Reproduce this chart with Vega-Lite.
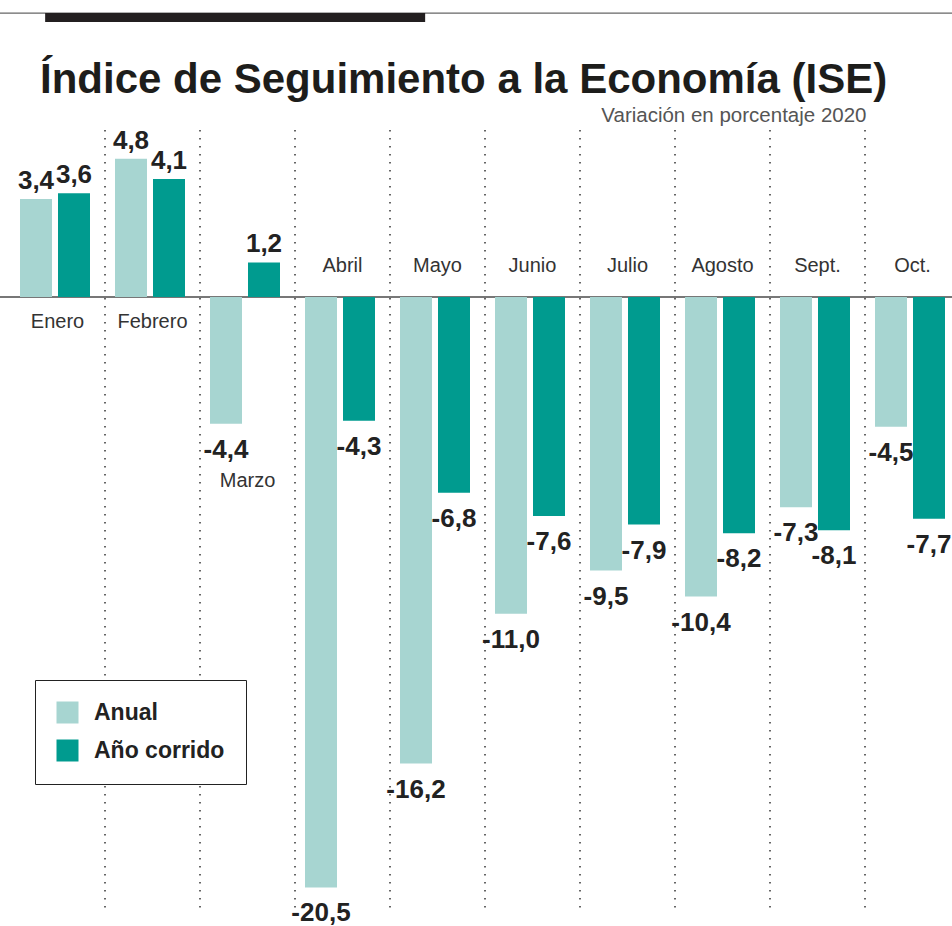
{
  "$schema": "https://vega.github.io/schema/vega-lite/v6.json",
  "width": 952,
  "height": 796,
  "autosize": {"type": "none"},
  "padding": {"left": 0, "top": 130, "right": 0, "bottom": 0},
  "background": "white",
  "title": {
    "text": "Índice de Seguimiento a la Economía (ISE)",
    "anchor": "start",
    "frame": "group",
    "dx": 40,
    "offset": -123,
    "baseline": "alphabetic",
    "font": "Liberation Sans",
    "fontSize": 42,
    "fontWeight": "bold",
    "color": "#1d1d1b"
  },
  "datasets": {
    "ise": [
      {"mes": "Enero", "serie": "Anual", "valor": 3.4},
      {"mes": "Enero", "serie": "Año corrido", "valor": 3.6},
      {"mes": "Febrero", "serie": "Anual", "valor": 4.8},
      {"mes": "Febrero", "serie": "Año corrido", "valor": 4.1},
      {"mes": "Marzo", "serie": "Anual", "valor": -4.4},
      {"mes": "Marzo", "serie": "Año corrido", "valor": 1.2},
      {"mes": "Abril", "serie": "Anual", "valor": -20.5},
      {"mes": "Abril", "serie": "Año corrido", "valor": -4.3},
      {"mes": "Mayo", "serie": "Anual", "valor": -16.2},
      {"mes": "Mayo", "serie": "Año corrido", "valor": -6.8},
      {"mes": "Junio", "serie": "Anual", "valor": -11.0},
      {"mes": "Junio", "serie": "Año corrido", "valor": -7.6},
      {"mes": "Julio", "serie": "Anual", "valor": -9.5},
      {"mes": "Julio", "serie": "Año corrido", "valor": -7.9},
      {"mes": "Agosto", "serie": "Anual", "valor": -10.4},
      {"mes": "Agosto", "serie": "Año corrido", "valor": -8.2},
      {"mes": "Sept.", "serie": "Anual", "valor": -7.3},
      {"mes": "Sept.", "serie": "Año corrido", "valor": -8.1},
      {"mes": "Oct.", "serie": "Anual", "valor": -4.5},
      {"mes": "Oct.", "serie": "Año corrido", "valor": -7.7}
    ]
  },
  "data": {"name": "ise"},
  "config": {
    "view": {"stroke": null},
    "locale": {"number": {"decimal": ",", "thousands": ".", "grouping": [3], "currency": ["$", ""], "minus": "-"}},
    "text": {"font": "Liberation Sans"}
  },
  "layer": [
    {
      "transform": [{"filter": "datum.serie == 'Anual' && datum.mes != 'Enero'"}],
      "mark": {"type": "rule", "strokeDash": [1.6, 6.4], "strokeWidth": 1.8, "color": "#555555"},
      "encoding": {
        "x": {"field": "mes", "type": "nominal", "bandPosition": 0, "scale": {"domain": ["Enero", "Febrero", "Marzo", "Abril", "Mayo", "Junio", "Julio", "Agosto", "Sept.", "Oct."], "range": [10, 960], "paddingInner": 0, "paddingOuter": 0}, "axis": {"orient": "top", "labels": false, "ticks": false, "domain": false, "grid": false, "title": "Variación en porcentaje 2020", "titleX": 866, "titleY": -9, "titleAlign": "right", "titleAnchor": "end", "titleBaseline": "alphabetic", "titleFont": "Liberation Sans", "titleFontSize": 20.5, "titleFontWeight": "normal", "titleColor": "#555555"}},
        "y": {"datum": 5.8, "type": "quantitative", "scale": {"domain": [-21.84, 5.8], "nice": false}, "axis": null},
        "y2": {"datum": -21.35}
      }
    },
    {
      "mark": {"type": "rule", "color": "#777777", "strokeWidth": 2},
      "encoding": {
        "y": {"datum": 0, "type": "quantitative", "scale": {"domain": [-21.84, 5.8], "nice": false}, "axis": null}
      }
    },
    {
      "mark": {"type": "bar"},
      "encoding": {
        "x": {"field": "mes", "type": "nominal", "scale": {"domain": ["Enero", "Febrero", "Marzo", "Abril", "Mayo", "Junio", "Julio", "Agosto", "Sept.", "Oct."], "range": [10, 960], "paddingInner": 0, "paddingOuter": 0}, "axis": {"orient": "top", "labels": false, "ticks": false, "domain": false, "grid": false, "title": "Variación en porcentaje 2020", "titleX": 866, "titleY": -9, "titleAlign": "right", "titleAnchor": "end", "titleBaseline": "alphabetic", "titleFont": "Liberation Sans", "titleFontSize": 20.5, "titleFontWeight": "normal", "titleColor": "#555555"}},
        "xOffset": {"field": "serie", "type": "nominal", "scale": {"domain": ["Anual", "Año corrido"], "range": [10, 80], "paddingInner": 0.158, "paddingOuter": 0}},
        "y": {"field": "valor", "type": "quantitative", "scale": {"domain": [-21.84, 5.8], "nice": false}, "axis": null},
        "color": {
          "field": "serie", "type": "nominal",
          "scale": {"domain": ["Anual", "Año corrido"], "range": ["#a7d5d1", "#009b8f"]},
          "legend": {"orient": "none", "legendX": 35, "legendY": 550, "title": null, "direction": "vertical", "symbolType": "square", "symbolSize": 484, "symbolStrokeWidth": 0, "symbolOpacity": 1, "labelFont": "Liberation Sans", "labelFontSize": 23, "labelFontWeight": "bold", "labelColor": "#222222", "labelOffset": 15, "rowPadding": 14, "padding": 21, "strokeColor": "#222222", "fillColor": "white"}
        }
      }
    },
    {
      "transform": [{"filter": "datum.valor >= 0"}],
      "mark": {"type": "text", "baseline": "middle", "dy": -18, "fontSize": 26, "fontWeight": "bold", "color": "#222222"},
      "encoding": {
        "x": {"field": "mes", "type": "nominal", "scale": {"domain": ["Enero", "Febrero", "Marzo", "Abril", "Mayo", "Junio", "Julio", "Agosto", "Sept.", "Oct."], "range": [10, 960], "paddingInner": 0, "paddingOuter": 0}, "axis": {"orient": "top", "labels": false, "ticks": false, "domain": false, "grid": false, "title": "Variación en porcentaje 2020", "titleX": 866, "titleY": -9, "titleAlign": "right", "titleAnchor": "end", "titleBaseline": "alphabetic", "titleFont": "Liberation Sans", "titleFontSize": 20.5, "titleFontWeight": "normal", "titleColor": "#555555"}},
        "xOffset": {"field": "serie", "type": "nominal", "scale": {"domain": ["Anual", "Año corrido"], "range": [10, 80], "paddingInner": 0.158, "paddingOuter": 0}},
        "y": {"field": "valor", "type": "quantitative", "scale": {"domain": [-21.84, 5.8], "nice": false}, "axis": null},
        "text": {"field": "valor", "type": "quantitative", "format": ".1f"}
      }
    },
    {
      "transform": [{"filter": "datum.valor < 0"}],
      "mark": {"type": "text", "baseline": "middle", "dy": 26, "fontSize": 26, "fontWeight": "bold", "color": "#222222"},
      "encoding": {
        "x": {"field": "mes", "type": "nominal", "scale": {"domain": ["Enero", "Febrero", "Marzo", "Abril", "Mayo", "Junio", "Julio", "Agosto", "Sept.", "Oct."], "range": [10, 960], "paddingInner": 0, "paddingOuter": 0}, "axis": {"orient": "top", "labels": false, "ticks": false, "domain": false, "grid": false, "title": "Variación en porcentaje 2020", "titleX": 866, "titleY": -9, "titleAlign": "right", "titleAnchor": "end", "titleBaseline": "alphabetic", "titleFont": "Liberation Sans", "titleFontSize": 20.5, "titleFontWeight": "normal", "titleColor": "#555555"}},
        "xOffset": {"field": "serie", "type": "nominal", "scale": {"domain": ["Anual", "Año corrido"], "range": [10, 80], "paddingInner": 0.158, "paddingOuter": 0}},
        "y": {"field": "valor", "type": "quantitative", "scale": {"domain": [-21.84, 5.8], "nice": false}, "axis": null},
        "text": {"field": "valor", "type": "quantitative", "format": ".1f"}
      }
    },
    {
      "transform": [{"filter": "datum.serie == 'Anual' && (datum.mes == 'Enero' || datum.mes == 'Febrero')"}],
      "mark": {"type": "text", "baseline": "middle", "fontSize": 20, "color": "#333333"},
      "encoding": {
        "x": {"field": "mes", "type": "nominal", "scale": {"domain": ["Enero", "Febrero", "Marzo", "Abril", "Mayo", "Junio", "Julio", "Agosto", "Sept.", "Oct."], "range": [10, 960], "paddingInner": 0, "paddingOuter": 0}, "axis": {"orient": "top", "labels": false, "ticks": false, "domain": false, "grid": false, "title": "Variación en porcentaje 2020", "titleX": 866, "titleY": -9, "titleAlign": "right", "titleAnchor": "end", "titleBaseline": "alphabetic", "titleFont": "Liberation Sans", "titleFontSize": 20.5, "titleFontWeight": "normal", "titleColor": "#555555"}},
        "y": {"datum": -0.85, "type": "quantitative", "scale": {"domain": [-21.84, 5.8], "nice": false}, "axis": null},
        "text": {"field": "mes", "type": "nominal"}
      }
    },
    {
      "transform": [{"filter": "datum.serie == 'Anual' && datum.valor < 0 && datum.mes != 'Marzo'"}],
      "mark": {"type": "text", "baseline": "middle", "fontSize": 20, "color": "#333333"},
      "encoding": {
        "x": {"field": "mes", "type": "nominal", "scale": {"domain": ["Enero", "Febrero", "Marzo", "Abril", "Mayo", "Junio", "Julio", "Agosto", "Sept.", "Oct."], "range": [10, 960], "paddingInner": 0, "paddingOuter": 0}, "axis": {"orient": "top", "labels": false, "ticks": false, "domain": false, "grid": false, "title": "Variación en porcentaje 2020", "titleX": 866, "titleY": -9, "titleAlign": "right", "titleAnchor": "end", "titleBaseline": "alphabetic", "titleFont": "Liberation Sans", "titleFontSize": 20.5, "titleFontWeight": "normal", "titleColor": "#555555"}},
        "y": {"datum": 1.08, "type": "quantitative", "scale": {"domain": [-21.84, 5.8], "nice": false}, "axis": null},
        "text": {"field": "mes", "type": "nominal"}
      }
    },
    {
      "transform": [{"filter": "datum.serie == 'Anual' && datum.mes == 'Marzo'"}],
      "mark": {"type": "text", "baseline": "middle", "dy": 57, "fontSize": 20, "color": "#333333"},
      "encoding": {
        "x": {"field": "mes", "type": "nominal", "scale": {"domain": ["Enero", "Febrero", "Marzo", "Abril", "Mayo", "Junio", "Julio", "Agosto", "Sept.", "Oct."], "range": [10, 960], "paddingInner": 0, "paddingOuter": 0}, "axis": {"orient": "top", "labels": false, "ticks": false, "domain": false, "grid": false, "title": "Variación en porcentaje 2020", "titleX": 866, "titleY": -9, "titleAlign": "right", "titleAnchor": "end", "titleBaseline": "alphabetic", "titleFont": "Liberation Sans", "titleFontSize": 20.5, "titleFontWeight": "normal", "titleColor": "#555555"}},
        "y": {"field": "valor", "type": "quantitative", "scale": {"domain": [-21.84, 5.8], "nice": false}, "axis": null},
        "text": {"field": "mes", "type": "nominal"}
      }
    },
    {
      "data": {"values": [{}]},
      "mark": {"type": "rule", "color": "#666666", "strokeWidth": 1.2},
      "encoding": {
        "y": {"datum": 9.86, "type": "quantitative", "scale": {"domain": [-21.84, 5.8], "nice": false}, "axis": null}
      }
    },
    {
      "data": {"values": [{}]},
      "mark": {"type": "rect", "color": "#231f20"},
      "encoding": {
        "x": {"datum": "Enero", "type": "nominal", "bandPosition": 0.37, "scale": {"domain": ["Enero", "Febrero", "Marzo", "Abril", "Mayo", "Junio", "Julio", "Agosto", "Sept.", "Oct."], "range": [10, 960], "paddingInner": 0, "paddingOuter": 0}, "axis": {"orient": "top", "labels": false, "ticks": false, "domain": false, "grid": false, "title": "Variación en porcentaje 2020", "titleX": 866, "titleY": -9, "titleAlign": "right", "titleAnchor": "end", "titleBaseline": "alphabetic", "titleFont": "Liberation Sans", "titleFontSize": 20.5, "titleFontWeight": "normal", "titleColor": "#555555"}},
        "x2": {"datum": "Mayo", "bandPosition": 0.37},
        "y": {"datum": 9.86, "type": "quantitative", "scale": {"domain": [-21.84, 5.8], "nice": false}, "axis": null},
        "y2": {"datum": 9.55}
      }
    }
  ]
}
